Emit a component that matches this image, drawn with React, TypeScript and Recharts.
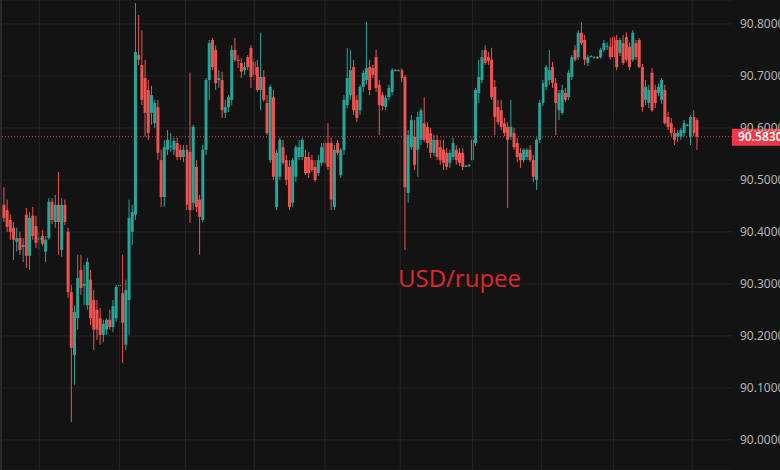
import React from 'react';
import { ComposedChart, Bar, XAxis, YAxis, CartesianGrid, ReferenceLine } from 'recharts';

const opens = [
  90.452, 90.442, 90.423, 90.408, 90.381, 90.388, 90.371, 90.433, 90.354, 90.431,
  90.411, 90.385, 90.392, 90.362, 90.388, 90.458, 90.419, 90.452, 90.365, 90.452,
  90.400, 90.284, 90.163, 90.234, 90.327, 90.296, 90.259, 90.308, 90.269, 90.250,
  90.234, 90.202, 90.212, 90.231, 90.217, 90.234, 90.296, 90.282, 90.183, 90.269,
  90.400, 90.433, 90.740, 90.721, 90.696, 90.673, 90.629, 90.609, 90.640, 90.538,
  90.467, 90.558, 90.563, 90.558, 90.571, 90.558, 90.544, 90.558, 90.554, 90.456,
  90.525, 90.462, 90.423, 90.558, 90.692, 90.769, 90.750, 90.692, 90.692, 90.629,
  90.640, 90.654, 90.750, 90.731, 90.725, 90.711, 90.736, 90.754, 90.727, 90.717,
  90.673, 90.698, 90.648, 90.538, 90.659, 90.448, 90.506, 90.563, 90.538, 90.525,
  90.456, 90.506, 90.544, 90.544, 90.544, 90.544, 90.538, 90.525, 90.513, 90.533,
  90.571, 90.571, 90.571, 90.448, 90.571, 90.509, 90.558, 90.644, 90.663, 90.717,
  90.654, 90.634, 90.679, 90.692, 90.717, 90.715, 90.736, 90.683, 90.663, 90.640,
  90.659, 90.669, 90.711, 90.711, 90.711, 90.698, 90.475, 90.563, 90.583, 90.558,
  90.577, 90.609, 90.602, 90.590, 90.552, 90.577, 90.563, 90.558, 90.552, 90.533,
  90.544, 90.558, 90.552, 90.552, 90.527, 90.527, 90.538, 90.571, 90.667, 90.692,
  90.750, 90.736, 90.731, 90.679, 90.640, 90.634, 90.609, 90.602, 90.583, 90.590,
  90.571, 90.552, 90.538, 90.544, 90.558, 90.538, 90.500, 90.577, 90.648, 90.679,
  90.692, 90.717, 90.686, 90.634, 90.629, 90.667, 90.659, 90.698, 90.750, 90.736,
  90.783, 90.769, 90.725, 90.738, 90.736, 90.736, 90.736, 90.750, 90.756, 90.756,
  90.775, 90.769, 90.744, 90.763, 90.775, 90.756, 90.731, 90.763, 90.769, 90.717,
  90.654, 90.648, 90.706, 90.673, 90.667, 90.654, 90.673, 90.621, 90.609, 90.590,
  90.583, 90.583, 90.590, 90.606, 90.583, 90.621, 90.615,
];

const highs = [
  90.486, 90.462, 90.433, 90.419, 90.408, 90.400, 90.388, 90.446, 90.438, 90.448,
  90.431, 90.400, 90.404, 90.392, 90.465, 90.465, 90.471, 90.515, 90.465, 90.462,
  90.408, 90.298, 90.259, 90.356, 90.356, 90.336, 90.350, 90.327, 90.288, 90.269,
  90.254, 90.231, 90.234, 90.250, 90.269, 90.298, 90.300, 90.356, 90.308, 90.462,
  90.452, 90.840, 90.817, 90.788, 90.731, 90.692, 90.681, 90.654, 90.654, 90.558,
  90.577, 90.596, 90.590, 90.581, 90.581, 90.567, 90.567, 90.567, 90.706, 90.606,
  90.538, 90.471, 90.567, 90.696, 90.769, 90.773, 90.759, 90.711, 90.708, 90.654,
  90.663, 90.759, 90.773, 90.740, 90.734, 90.727, 90.740, 90.759, 90.734, 90.731,
  90.783, 90.711, 90.663, 90.683, 90.673, 90.558, 90.581, 90.577, 90.548, 90.538,
  90.542, 90.567, 90.577, 90.581, 90.558, 90.554, 90.548, 90.538, 90.548, 90.571,
  90.577, 90.609, 90.581, 90.567, 90.577, 90.561, 90.663, 90.754, 90.750, 90.731,
  90.663, 90.683, 90.711, 90.804, 90.731, 90.721, 90.750, 90.692, 90.669, 90.663,
  90.683, 90.715, 90.713, 90.713, 90.715, 90.702, 90.596, 90.625, 90.615, 90.631,
  90.638, 90.659, 90.611, 90.600, 90.586, 90.586, 90.577, 90.577, 90.561, 90.558,
  90.581, 90.567, 90.561, 90.561, 90.529, 90.531, 90.581, 90.677, 90.731, 90.750,
  90.759, 90.746, 90.754, 90.692, 90.654, 90.654, 90.619, 90.611, 90.654, 90.600,
  90.581, 90.561, 90.561, 90.561, 90.567, 90.548, 90.581, 90.654, 90.692, 90.721,
  90.750, 90.727, 90.696, 90.673, 90.683, 90.677, 90.711, 90.740, 90.759, 90.788,
  90.804, 90.779, 90.740, 90.740, 90.738, 90.738, 90.754, 90.769, 90.765, 90.773,
  90.779, 90.779, 90.773, 90.779, 90.784, 90.765, 90.788, 90.769, 90.773, 90.723,
  90.692, 90.683, 90.715, 90.683, 90.685, 90.696, 90.683, 90.631, 90.619, 90.600,
  90.596, 90.600, 90.615, 90.608, 90.625, 90.634, 90.619,
];

const lows = [
  90.419, 90.400, 90.385, 90.346, 90.362, 90.356, 90.342, 90.331, 90.327, 90.385,
  90.369, 90.365, 90.373, 90.342, 90.385, 90.415, 90.408, 90.356, 90.352, 90.413,
  90.273, 90.034, 90.106, 90.212, 90.279, 90.259, 90.250, 90.221, 90.173, 90.192,
  90.183, 90.188, 90.202, 90.212, 90.207, 90.227, 90.292, 90.148, 90.173, 90.202,
  90.375, 90.423, 90.721, 90.644, 90.583, 90.577, 90.606, 90.600, 90.538, 90.448,
  90.448, 90.548, 90.554, 90.548, 90.538, 90.538, 90.534, 90.442, 90.417, 90.442,
  90.438, 90.356, 90.419, 90.548, 90.654, 90.711, 90.673, 90.677, 90.619, 90.619,
  90.631, 90.644, 90.727, 90.715, 90.696, 90.702, 90.711, 90.677, 90.692, 90.669,
  90.634, 90.650, 90.586, 90.533, 90.500, 90.442, 90.500, 90.529, 90.490, 90.442,
  90.448, 90.496, 90.538, 90.538, 90.509, 90.504, 90.515, 90.496, 90.508, 90.527,
  90.529, 90.519, 90.442, 90.442, 90.548, 90.504, 90.548, 90.638, 90.654, 90.625,
  90.611, 90.625, 90.669, 90.683, 90.663, 90.696, 90.669, 90.586, 90.634, 90.634,
  90.654, 90.663, 90.709, 90.709, 90.688, 90.365, 90.456, 90.558, 90.519, 90.506,
  90.567, 90.573, 90.561, 90.542, 90.546, 90.538, 90.529, 90.519, 90.519, 90.523,
  90.538, 90.529, 90.527, 90.519, 90.525, 90.525, 90.533, 90.565, 90.648, 90.686,
  90.721, 90.721, 90.654, 90.586, 90.606, 90.596, 90.584, 90.446, 90.577, 90.558,
  90.534, 90.523, 90.533, 90.538, 90.534, 90.496, 90.481, 90.571, 90.642, 90.673,
  90.683, 90.677, 90.586, 90.615, 90.625, 90.650, 90.654, 90.692, 90.727, 90.731,
  90.759, 90.721, 90.719, 90.736, 90.734, 90.733, 90.733, 90.746, 90.750, 90.731,
  90.629, 90.711, 90.738, 90.721, 90.727, 90.711, 90.727, 90.731, 90.715, 90.631,
  90.644, 90.638, 90.631, 90.638, 90.661, 90.646, 90.606, 90.596, 90.584, 90.567,
  90.573, 90.577, 90.584, 90.604, 90.567, 90.584, 90.558,
];

const closes = [
  90.427, 90.410, 90.400, 90.385, 90.388, 90.365, 90.375, 90.354, 90.427, 90.392,
  90.379, 90.388, 90.377, 90.385, 90.458, 90.423, 90.452, 90.419, 90.452, 90.419,
  90.284, 90.177, 90.246, 90.311, 90.292, 90.300, 90.342, 90.234, 90.212, 90.212,
  90.202, 90.223, 90.231, 90.217, 90.257, 90.294, 90.298, 90.225, 90.288, 90.427,
  90.438, 90.746, 90.731, 90.654, 90.629, 90.590, 90.663, 90.648, 90.552, 90.467,
  90.563, 90.577, 90.565, 90.575, 90.544, 90.544, 90.558, 90.452, 90.442, 90.602,
  90.448, 90.429, 90.558, 90.692, 90.763, 90.717, 90.686, 90.696, 90.634, 90.640,
  90.659, 90.750, 90.731, 90.729, 90.708, 90.717, 90.717, 90.698, 90.702, 90.673,
  90.698, 90.654, 90.590, 90.679, 90.506, 90.552, 90.577, 90.533, 90.500, 90.448,
  90.538, 90.563, 90.563, 90.577, 90.513, 90.513, 90.519, 90.500, 90.538, 90.563,
  90.533, 90.525, 90.462, 90.558, 90.552, 90.558, 90.654, 90.696, 90.711, 90.634,
  90.619, 90.679, 90.706, 90.715, 90.673, 90.702, 90.677, 90.644, 90.642, 90.658,
  90.677, 90.711, 90.711, 90.711, 90.696, 90.486, 90.586, 90.615, 90.529, 90.621,
  90.634, 90.577, 90.571, 90.552, 90.577, 90.544, 90.538, 90.533, 90.525, 90.552,
  90.571, 90.538, 90.533, 90.525, 90.527, 90.529, 90.577, 90.673, 90.698, 90.736,
  90.725, 90.729, 90.659, 90.621, 90.611, 90.602, 90.590, 90.577, 90.602, 90.563,
  90.544, 90.538, 90.558, 90.558, 90.538, 90.506, 90.577, 90.648, 90.686, 90.717,
  90.711, 90.686, 90.648, 90.667, 90.673, 90.654, 90.706, 90.736, 90.731, 90.783,
  90.763, 90.731, 90.736, 90.738, 90.736, 90.734, 90.750, 90.763, 90.758, 90.736,
  90.736, 90.717, 90.769, 90.725, 90.731, 90.717, 90.783, 90.736, 90.717, 90.640,
  90.679, 90.673, 90.634, 90.648, 90.679, 90.692, 90.609, 90.602, 90.590, 90.577,
  90.590, 90.596, 90.609, 90.606, 90.621, 90.590, 90.583,
];

const yTicks = [90.0, 90.1, 90.2, 90.3, 90.4, 90.5, 90.6, 90.7, 90.8];
const xGridMarks = [11, 36, 56.5, 78, 100, 123.5, 146, 167.5, 190, 214.5];
const lastPrice = 90.583;
const titleText = 'USD/rupee';

const UP = '#26a69a';
const DOWN = '#ef5350';
const BG = '#131313';
const GRID = '#242424';

const data = opens.map((o, i) => ({
  i,
  open: o,
  high: highs[i],
  low: lows[i],
  close: closes[i],
  range: [lows[i], highs[i]],
}));

const Candle = (props: any) => {
  const { x, y, width, height, payload } = props;
  if (x == null || y == null || !payload) return null;
  const { open, close, high, low } = payload;
  const top = Math.min(y, y + height);
  const h = Math.abs(height);
  const span = high - low;
  const py = (v: number) => (span === 0 ? top : top + ((high - v) / span) * h);
  const up = close >= open;
  const color = up ? UP : DOWN;
  const cx = x + width / 2;
  const bTop = py(Math.max(open, close));
  const bBot = py(Math.min(open, close));
  return (
    <g>
      <line x1={cx} x2={cx} y1={top} y2={top + h} stroke={color} strokeWidth={1} />
      <rect x={x} y={bTop} width={width} height={Math.max(1, bBot - bTop)} fill={color} />
    </g>
  );
};

const PriceTag = (props: any) => {
  const vb = props.viewBox || {};
  const x = (vb.x || 0) + (vb.width || 0);
  const y = vb.y || 0;
  return (
    <g>
      <rect x={x} y={y - 8} width={50} height={17} fill="#f23645" />
      <text x={x + 6} y={y + 4.5} fill="#ffffff" fontSize={12} fontWeight={600} fontFamily="Noto Sans, sans-serif">
        {lastPrice.toFixed(4)}
      </text>
    </g>
  );
};

export default function App() {
  return (
    <div style={{ position: 'absolute', left: 0, top: 0, width: 780, height: 470, background: BG, overflow: 'hidden' }}>
      <ComposedChart width={780} height={470} data={data} margin={{ top: 0, right: 0, bottom: 0, left: 0 }}>
        <CartesianGrid vertical={false} stroke={GRID} />
        <XAxis type="number" dataKey="i" domain={[-1.25, 226.9]} hide allowDataOverflow />
        <YAxis
          orientation="right"
          width={48}
          domain={[89.942, 90.846]}
          ticks={yTicks}
          allowDataOverflow
          axisLine={false}
          tickLine={false}
          tickFormatter={(v: number) => v.toFixed(4)}
          tick={{ fill: '#b4b4b4', fontSize: 12, fontFamily: 'Noto Sans, sans-serif' }}
        />
        {xGridMarks.map((m) => (
          <ReferenceLine key={m} x={m} stroke={GRID} strokeWidth={1} />
        ))}
        <Bar dataKey="range" shape={(p: any) => <Candle {...p} />} isAnimationActive={false} barSize={3} />
        <ReferenceLine y={lastPrice} stroke="#e0454e" strokeDasharray="1 2" label={<PriceTag />} />
      </ComposedChart>
      <div style={{ position: 'absolute', left: 0, top: 0, width: 2, height: 470, background: '#2a2a2a' }} />
      <div
        style={{
          position: 'absolute',
          left: 398,
          top: 266,
          fontSize: 24,
          lineHeight: 1,
          fontFamily: '"Open Sans", sans-serif',
          color: '#e0262b',
          whiteSpace: 'nowrap',
        }}
      >
        {titleText}
      </div>
    </div>
  );
}
